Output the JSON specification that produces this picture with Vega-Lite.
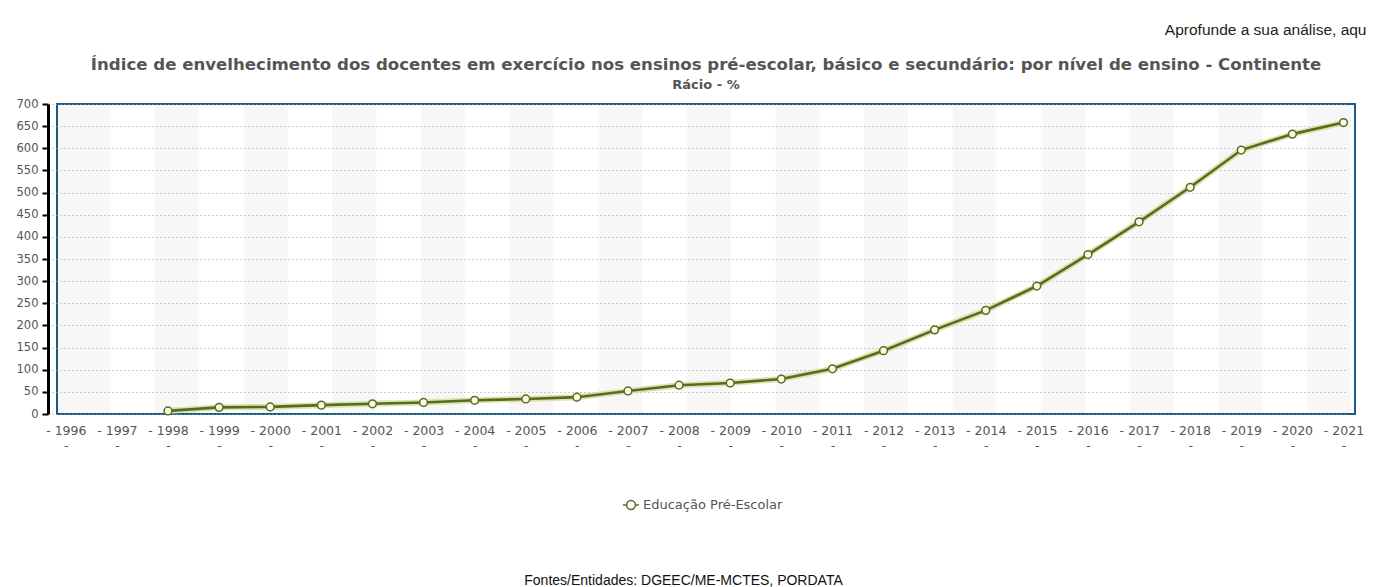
{
  "$schema": "https://vega.github.io/schema/vega-lite/v6.json",
  "autosize": {"type": "none"},
  "width": 1298,
  "height": 310,
  "padding": {"left": 57, "top": 104, "right": 21, "bottom": 173},
  "background": "white",
  "title": {
    "text": "Índice de envelhecimento dos docentes em exercício nos ensinos pré-escolar, básico e secundário: por nível de ensino - Continente",
    "subtitle": "Rácio - %",
    "anchor": "middle",
    "font": "DejaVu Sans",
    "fontSize": 16.6,
    "fontWeight": "bold",
    "color": "#555555",
    "subtitleFont": "DejaVu Sans",
    "subtitleFontSize": 13,
    "subtitleFontWeight": "bold",
    "subtitleColor": "#555555",
    "subtitlePadding": 5,
    "offset": -70
  },
  "datasets": {
    "serie": [
      {"ano": 1998, "valor": 7, "serie": "Educação Pré-Escolar"},
      {"ano": 1999, "valor": 15, "serie": "Educação Pré-Escolar"},
      {"ano": 2000, "valor": 16, "serie": "Educação Pré-Escolar"},
      {"ano": 2001, "valor": 20, "serie": "Educação Pré-Escolar"},
      {"ano": 2002, "valor": 23, "serie": "Educação Pré-Escolar"},
      {"ano": 2003, "valor": 26, "serie": "Educação Pré-Escolar"},
      {"ano": 2004, "valor": 31, "serie": "Educação Pré-Escolar"},
      {"ano": 2005, "valor": 34, "serie": "Educação Pré-Escolar"},
      {"ano": 2006, "valor": 38, "serie": "Educação Pré-Escolar"},
      {"ano": 2007, "valor": 52, "serie": "Educação Pré-Escolar"},
      {"ano": 2008, "valor": 65, "serie": "Educação Pré-Escolar"},
      {"ano": 2009, "valor": 70, "serie": "Educação Pré-Escolar"},
      {"ano": 2010, "valor": 79, "serie": "Educação Pré-Escolar"},
      {"ano": 2011, "valor": 102, "serie": "Educação Pré-Escolar"},
      {"ano": 2012, "valor": 143, "serie": "Educação Pré-Escolar"},
      {"ano": 2013, "valor": 190, "serie": "Educação Pré-Escolar"},
      {"ano": 2014, "valor": 234, "serie": "Educação Pré-Escolar"},
      {"ano": 2015, "valor": 289, "serie": "Educação Pré-Escolar"},
      {"ano": 2016, "valor": 360, "serie": "Educação Pré-Escolar"},
      {"ano": 2017, "valor": 434, "serie": "Educação Pré-Escolar"},
      {"ano": 2018, "valor": 512, "serie": "Educação Pré-Escolar"},
      {"ano": 2019, "valor": 596, "serie": "Educação Pré-Escolar"},
      {"ano": 2020, "valor": 632, "serie": "Educação Pré-Escolar"},
      {"ano": 2021, "valor": 658, "serie": "Educação Pré-Escolar"}
    ],
    "faixas": [
      {"inicio": 1995.83, "fim": 1996.87},
      {"inicio": 1997.745, "fim": 1998.605},
      {"inicio": 1999.48, "fim": 2000.34},
      {"inicio": 2001.21, "fim": 2002.08},
      {"inicio": 2002.95, "fim": 2003.81},
      {"inicio": 2004.68, "fim": 2005.54},
      {"inicio": 2006.42, "fim": 2007.28},
      {"inicio": 2008.15, "fim": 2009.01},
      {"inicio": 2009.89, "fim": 2010.75},
      {"inicio": 2011.62, "fim": 2012.48},
      {"inicio": 2013.35, "fim": 2014.21},
      {"inicio": 2015.09, "fim": 2015.95},
      {"inicio": 2016.82, "fim": 2017.68},
      {"inicio": 2018.56, "fim": 2019.42},
      {"inicio": 2020.29, "fim": 2021.15}
    ]
  },
  "layer": [
    {
      "data": {"name": "faixas"},
      "mark": {"type": "rect", "color": "#000000", "opacity": 0.03},
      "encoding": {
        "x": {
          "field": "inicio",
          "type": "quantitative",
          "scale": {"domain": [1995.828, 2021.225], "nice": false, "zero": false},
          "axis": {
            "orient": "top",
            "title": "Aprofunde a sua análise, aqu",
            "titleFont": "Liberation Sans",
            "titleFontSize": 15.5,
            "titleFontWeight": "normal",
            "titleColor": "#222222",
            "titleAnchor": "end",
            "titleAlign": "right",
            "titleX": 1309,
            "titlePadding": 67,
            "labels": false,
            "ticks": false,
            "domain": false,
            "grid": false,
            "minExtent": 0
          }
        },
        "x2": {"field": "fim"}
      }
    },
    {
      "data": {"name": "serie"},
      "mark": {"type": "line", "color": "#d3dc9c", "strokeWidth": 6, "opacity": 0.8},
      "encoding": {
        "x": {"field": "ano", "type": "quantitative", "axis": null},
        "y": {"field": "valor", "type": "quantitative", "scale": {"domain": [0, 700], "nice": false}}
      }
    },
    {
      "data": {"name": "serie"},
      "mark": {"type": "line", "strokeWidth": 2.6},
      "encoding": {
        "x": {
          "field": "ano",
          "type": "quantitative",
          "axis": {
            "orient": "bottom",
            "values": [1996, 1997, 1998, 1999, 2000, 2001, 2002, 2003, 2004, 2005, 2006, 2007, 2008, 2009, 2010, 2011, 2012, 2013, 2014, 2015, 2016, 2017, 2018, 2019, 2020, 2021],
            "format": "d",
            "labelExpr": "['- ' + datum.label, '-']",
            "labelFont": "DejaVu Sans",
            "labelFontSize": 12.5,
            "labelColor": "#555555",
            "labelLineHeight": 15,
            "labelBaseline": "top",
            "labelPadding": 10,
            "labelOverlap": false,
            "labelFlush": false,
            "labelBound": false,
            "domain": false,
            "ticks": false,
            "grid": false,
            "title": "Fontes/Entidades: DGEEC/ME-MCTES, PORDATA",
            "titleFont": "Liberation Sans",
            "titleFontSize": 14,
            "titleFontWeight": "normal",
            "titleColor": "#111111",
            "titleX": 626,
            "titleAlign": "center",
            "titlePadding": 122
          }
        },
        "y": {"field": "valor", "type": "quantitative"},
        "color": {
          "field": "serie",
          "type": "nominal",
          "scale": {"range": ["#566d1f"]},
          "legend": {
            "title": null,
            "orient": "none",
            "legendX": 565,
            "legendY": 392,
            "symbolType": "M-1,0L-0.55,0M0.55,0L1,0M-0.55,0A0.55,0.55,0,1,1,0.55,0A0.55,0.55,0,1,1,-0.55,0Z",
            "symbolSize": 256,
            "symbolFillColor": "#ffffff",
            "symbolStrokeColor": "#98a860",
            "symbolStrokeWidth": 1.5,
            "labelFont": "DejaVu Sans",
            "labelFontSize": 13,
            "labelColor": "#555555",
            "labelOffset": 3
          }
        }
      }
    },
    {
      "data": {"name": "serie"},
      "mark": {"type": "point", "filled": true, "fill": "#fbfbe6", "stroke": "#566d1f", "strokeWidth": 1.5, "size": 60, "opacity": 1},
      "encoding": {
        "x": {"field": "ano", "type": "quantitative", "axis": null},
        "y": {"field": "valor", "type": "quantitative"}
      }
    }
  ],
  "resolve": {"axis": {"x": "independent"}},
  "config": {
    "view": {"stroke": "#1d5a85", "strokeWidth": 2},
    "axisY": {
      "values": [0, 50, 100, 150, 200, 250, 300, 350, 400, 450, 500, 550, 600, 650, 700],
      "tickCount": 14,
      "title": null,
      "offset": 9,
      "domainColor": "#000000",
      "domainWidth": 3,
      "tickColor": "#000000",
      "tickWidth": 2,
      "tickSize": 6,
      "labelFont": "DejaVu Sans",
      "labelFontSize": 11.5,
      "labelColor": "#555555",
      "labelPadding": 4,
      "labelOverlap": false,
      "grid": true,
      "gridColor": "#a0a0a0",
      "gridDash": [1, 3],
      "gridWidth": 1
    }
  }
}
